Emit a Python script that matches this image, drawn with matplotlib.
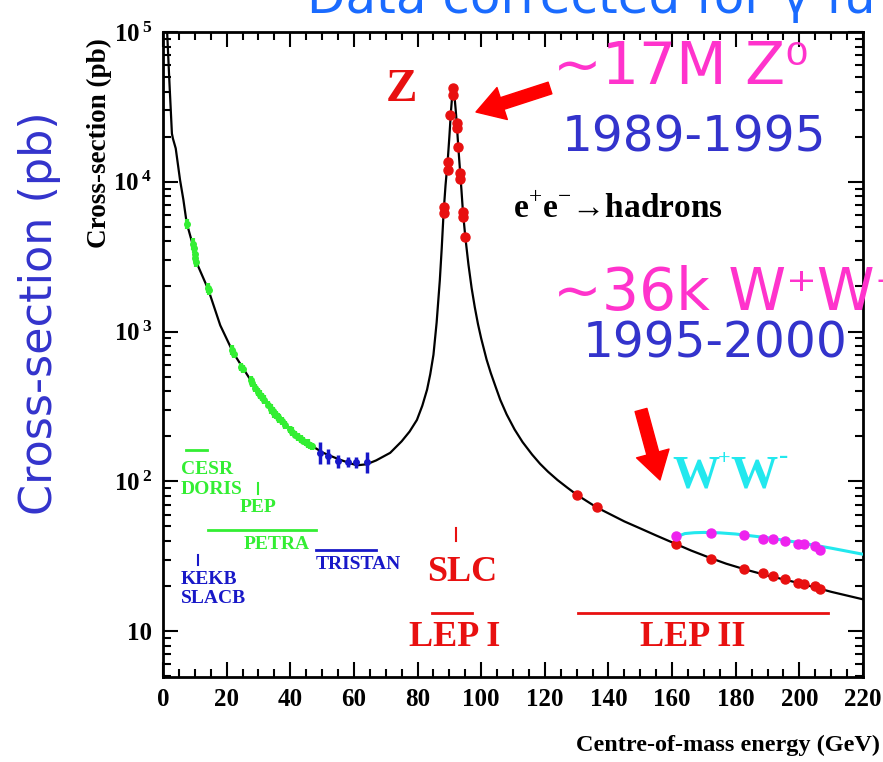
import numpy as np
import matplotlib
matplotlib.use("Agg")
import matplotlib.pyplot as plt

plt.rcParams['mathtext.fontset'] = 'custom'
plt.rcParams['mathtext.rm'] = 'Liberation Serif'
plt.rcParams['mathtext.bf'] = 'Liberation Serif:bold'

# theory curve e+e- -> hadrons
curve_x = [1.0, 1.3, 2.0, 2.8, 3.1, 4.0, 5.35, 6.4, 7.45, 9.5, 10.6, 14.25, 18.0,
           22.1, 27.4, 32.6, 37.8, 45.1, 50.4, 55.0, 58.8, 61.0, 64.0, 67.0, 71.4,
           75.0, 77.5, 79.8, 81.5, 83.0, 84.0, 85.0, 86.0, 87.0, 87.6, 88.2, 88.8,
           89.5, 90.0, 90.5, 90.8, 91.0, 91.2, 91.4, 91.6, 92.0, 92.3, 92.7, 93.0,
           93.4, 93.8, 94.2, 94.6, 95.0, 96.0, 97.0, 98.0, 99.0, 100.0, 101.7,
           103.0, 104.5, 106.0, 108.0, 110.5, 113.0, 116.0, 118.5, 121.0, 124.0,
           127.0, 130.0, 136.3, 145.0, 150.0, 155.0, 161.4, 166.0, 172.0, 177.0,
           183.0, 190.0, 200.0, 210.0, 220.0]
curve_y = [1.5e5, 1.0e5, 4.7e4, 2.1e4, 1.95e4, 1.67e4, 1.03e4, 7600, 5300, 3700,
           2870, 1905, 1100, 721, 479, 334, 246, 181, 155, 141, 132, 128, 130, 138,
           155, 185, 215, 257, 320, 410, 520, 700, 1150, 2200, 3600, 6300, 9500,
           14000, 20000, 29500, 35500, 39500, 41500, 40500, 37500, 30000, 25000,
           18500, 15000, 11500, 8800, 6600, 5300, 4300, 2800, 1950, 1450, 1120,
           900, 650, 530, 430, 350, 280, 222, 183, 151, 131, 116, 102, 91, 81.5,
           67, 54, 48.5, 43.5, 38, 34.5, 30.8, 28.2, 25.8, 23.5, 20.9, 18.3, 16.3]

# low energy data
green_x = [7.5, 9.3, 9.6, 9.9, 10.2, 10.5, 14.0, 14.3, 21.8, 22.2, 24.6, 25.0,
           27.5, 28.0, 29.0, 29.9, 30.4, 31.0, 31.6, 33.0, 33.8, 34.5, 35.0, 35.5,
           36.0, 36.5, 37.3, 38.3, 39.8, 40.5, 41.5, 42.5, 43.3, 44.0, 44.8, 45.5,
           46.2, 46.8]
green_y = [5200, 3850, 3600, 3300, 3100, 2900, 1950, 1880, 750, 710, 580, 560,
           475, 455, 420, 395, 380, 365, 350, 325, 305, 295, 285, 278, 270, 262,
           252, 238, 222, 215, 205, 198, 192, 187, 182, 178, 174, 171]
green_err = [0.08, 0.10, 0.08, 0.09, 0.07, 0.08, 0.08, 0.07, 0.08, 0.06, 0.07,
             0.06, 0.06, 0.07, 0.06, 0.06, 0.07, 0.06, 0.07, 0.06, 0.08, 0.06,
             0.07, 0.06, 0.06, 0.07, 0.06, 0.07, 0.06, 0.07, 0.06, 0.06, 0.07,
             0.06, 0.06, 0.07, 0.06, 0.06]

blue_x = [49.3, 52.0, 55.1, 58.0, 60.5, 64.2]
blue_y = [155, 147, 136, 134, 134, 134]
blue_err = [0.18, 0.12, 0.10, 0.08, 0.09, 0.18]

# LEP I points around the Z
z_x = [88.2, 88.25, 89.45, 89.5, 90.25, 91.15, 91.3, 92.3, 92.35, 92.7, 93.4,
       93.45, 94.2, 94.25, 95.0]
z_y = [6200, 6800, 12000, 13600, 28000, 42200, 38000, 24600, 23000, 17200,
       11400, 10500, 6300, 5800, 4300]

# LEP II hadrons and WW
lep2_x = [130.0, 136.3, 161.3, 172.1, 182.7, 188.6, 191.6, 195.5, 199.5, 201.6,
          204.9, 206.6]
lep2_y = [80.7, 67.5, 38.0, 30.5, 25.9, 24.3, 23.4, 22.2, 20.9, 20.7, 19.9, 19.0]
ww_y = [None, None, 43.0, 45.0, 43.6, 41.0, 41.5, 40.0, 38.0, 38.0, 37.0, 34.8]
ww_curve_x = [161.5, 162.5, 164.0, 167.0, 170.0, 175.0, 180.0, 190.0, 200.0,
              210.0, 220.0]
ww_curve_y = [41.0, 43.5, 44.8, 45.4, 45.6, 45.3, 44.5, 42.0, 39.0, 35.8, 32.6]

W, H = 883, 762
fig = plt.figure(figsize=(W / 100, H / 100), dpi=100)
ax = fig.add_axes([163 / W, 1 - 677 / H, 700 / W, 645 / H])


def fp(x, y):
    # picture pixels -> figure fraction
    return x / W, 1 - y / H


red = '#e81010'
green = '#33ee33'
blue = '#1818c8'
cyan = '#22e8ee'
serif = 'Liberation Serif'

ax.plot(curve_x, curve_y, color='black', lw=1.6, zorder=3)
ax.plot(ww_curve_x, ww_curve_y, color=cyan, lw=2.2, zorder=3)

gy = np.array(green_y, float)
ge = np.array(green_err)
ax.errorbar(green_x, gy, yerr=[gy - gy / (1 + ge), gy * ge], fmt='o', ms=4,
            color=green, ecolor=green, elinewidth=3, capsize=0, zorder=4)
by = np.array(blue_y, float)
be = np.array(blue_err)
ax.errorbar(blue_x, by, yerr=[by - by / (1 + be), by * be], fmt='o', ms=4,
            color=blue, ecolor=blue, elinewidth=2.5, capsize=0, zorder=4)

ax.plot(z_x, z_y, 'o', color=red, ms=6.5, zorder=5)
ax.plot(lep2_x, lep2_y, 'o', color=red, ms=6.5, zorder=5)
wx = [x for x, y in zip(lep2_x, ww_y) if y is not None]
wy = [y for y in ww_y if y is not None]
ax.plot(wx, wy, 'o', color='#ee22ee', ms=6.5, zorder=5)

ax.set_xlim(0, 220)
ax.set_yscale('log')
ax.set_ylim(4.94, 1e5)

# machines
lab = dict(fontsize=14, fontweight='bold', family=serif, va='center')
ax.plot([7.2, 13.8], [161, 161], color=green, lw=2)
ax.text(5.7, 120, 'CESR', color=green, ha='left', **lab)
ax.text(5.7, 88, 'DORIS', color=green, ha='left', **lab)
ax.plot([29.9, 29.9], [82, 98], color=green, lw=1.5)
ax.text(29.9, 67, 'PEP', color=green, ha='center', **lab)
ax.plot([14, 48], [47, 47], color=green, lw=2)
ax.text(35.8, 38, 'PETRA', color=green, ha='center', **lab)
ax.plot([48, 67], [34.7, 34.7], color=blue, lw=2)
ax.text(48, 28, 'TRISTAN', color=blue, ha='left', **lab)
ax.plot([11, 11], [27.5, 32], color=blue, lw=1.5)
ax.text(5.7, 22, 'KEKB', color=blue, ha='left', **lab)
ax.text(5.7, 16.6, 'SLACB', color=blue, ha='left', **lab)

big = dict(fontsize=26, fontweight='bold', family=serif, va='center',
           ha='center', color=red)
ax.plot([92.1, 92.1], [40, 49], color=red, lw=1.5)
ax.text(94, 24.7, 'SLC', **big)
ax.plot([84.6, 97.2], [13.2, 13.2], color=red, lw=2)
ax.text(91.8, 9.1, 'LEP I', **big)
ax.plot([130.5, 209], [13.2, 13.2], color=red, lw=2)
ax.text(166.6, 9.1, 'LEP II', **big)
ax.text(75.1, 41000, 'Z', color=red, fontsize=34, fontweight='bold',
        family=serif, va='center', ha='center')
ax.text(110, 6500, r'e$^{+}$e$^{-}$→hadrons', color='black', fontsize=24,
        fontweight='bold', family=serif, va='center', ha='left')

# W+W- label, drawn piece by piece to keep the small superscripts
wlab = dict(color=cyan, fontweight='bold', family=serif)
fig.text(*fp(672, 476), 'W', fontsize=34, ha='left', va='center', **wlab)
fig.text(*fp(724, 459), '+', fontsize=16, ha='center', va='center', **wlab)
fig.text(*fp(730, 476), 'W', fontsize=34, ha='left', va='center', **wlab)
fig.text(*fp(784, 457), '-', fontsize=20, ha='center', va='center', **wlab)

# ticks
ax.set_xticks(np.arange(0, 221, 20))
ax.set_xticks(np.arange(0, 221, 5), minor=True)
ax.set_yticks([10, 100, 1e3, 1e4, 1e5])
ax.set_yticklabels(['10', r'$\mathbf{10^{\,2}}$', r'$\mathbf{10^{\,3}}$',
                    r'$\mathbf{10^{\,4}}$', r'$\mathbf{10^{\,5}}$'])
ax.tick_params(which='both', direction='in', top=True, right=True, width=1.5)
ax.tick_params(which='major', length=11, pad=8, labelsize=18)
ax.tick_params(which='minor', length=6)
for t in ax.get_xticklabels() + ax.get_yticklabels():
    t.set_fontfamily(serif)
    t.set_fontweight('bold')
for s in ax.spines.values():
    s.set_linewidth(2)

fig.text(*fp(99, 143), 'Cross-section (pb)', rotation=90, fontsize=19.5,
         fontweight='bold', family=serif, ha='center', va='center')
fig.text(*fp(880, 745), 'Centre-of-mass energy (GeV)', fontsize=17.5,
         fontweight='bold', family=serif, ha='right', va='center')

# slide overlays
fig.text(*fp(40, 313), 'Cross-section (pb)', rotation=90, fontsize=32,
         color='#3333cc', ha='center', va='center')
fig.text(*fp(307, 13), 'Data corrected for γ fu', fontsize=36, color='#1a6bff',
         ha='left', va='baseline')
fig.text(*fp(553, 68), '~17M Z⁰', fontsize=42, color='#ff33cc',
         ha='left', va='center')
fig.text(*fp(562, 137), '1989-1995', fontsize=35, color='#3333cc',
         ha='left', va='center')
fig.text(*fp(553, 293), '~36k W⁺W⁻', fontsize=42, color='#ff33cc',
         ha='left', va='center')
fig.text(*fp(583, 343), '1995-2000', fontsize=35, color='#3333cc',
         ha='left', va='center')

arrow = dict(arrowstyle='simple,head_length=0.9,head_width=1.1,tail_width=0.4',
             color='red', mutation_scale=22, shrinkA=0, shrinkB=0)
ax.annotate('', xy=fp(476, 112), xytext=fp(550, 88), xycoords='figure fraction',
            textcoords='figure fraction', arrowprops=arrow)
ax.annotate('', xy=fp(660, 480), xytext=fp(641, 410), xycoords='figure fraction',
            textcoords='figure fraction', arrowprops=arrow)

fig.savefig('out.png', dpi=100)
